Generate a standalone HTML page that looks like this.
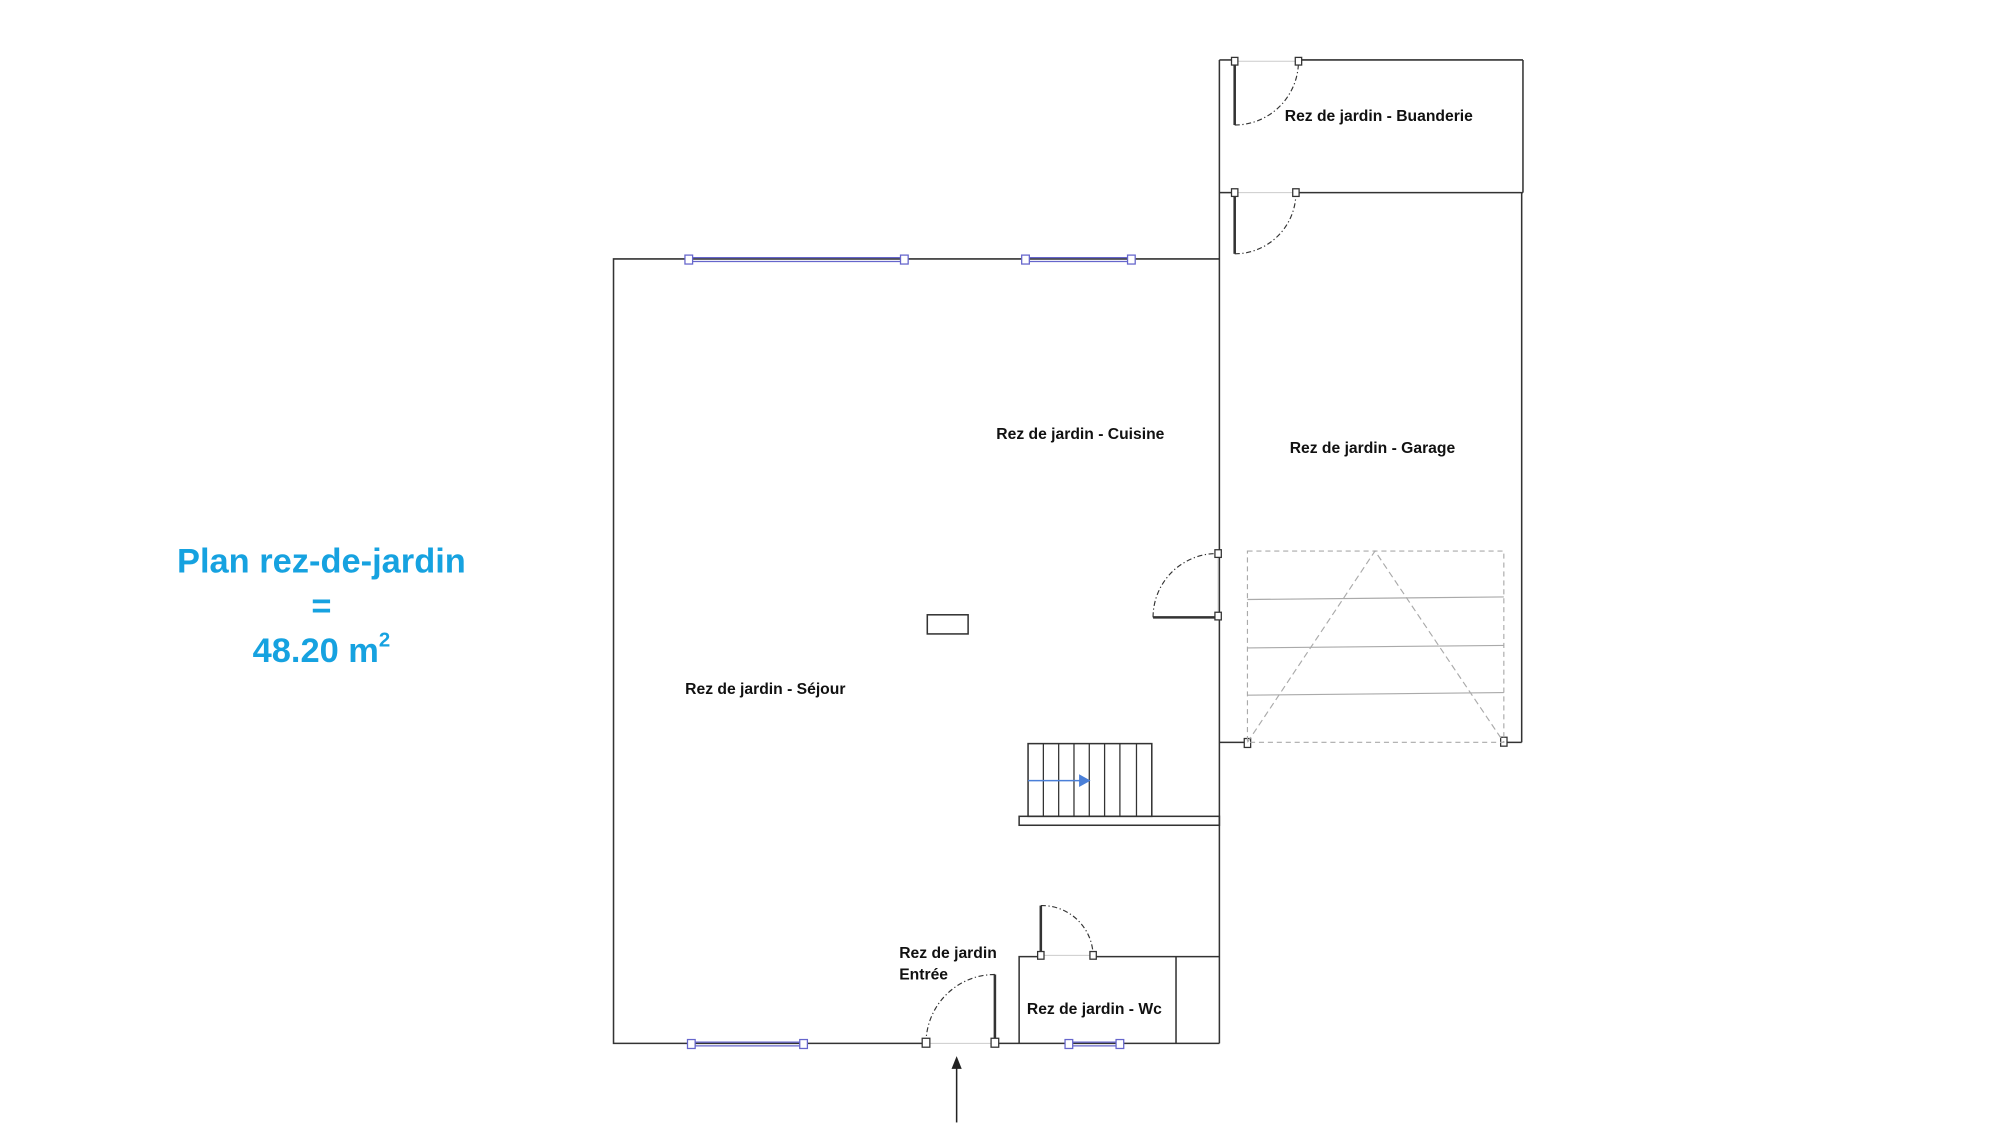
<!DOCTYPE html>
<html><head><meta charset="utf-8"><style>
html,body{margin:0;padding:0;background:#fff;}
svg{display:block;}
</style></head><body>
<svg width="2000" height="1125" viewBox="0 0 1568 882" xmlns="http://www.w3.org/2000/svg">
<rect width="1568" height="882" fill="#fff"/>
<g font-family="Liberation Sans, sans-serif" font-weight="bold" fill="#16a2e0" text-anchor="middle" font-size="27">
<text x="252" y="449">Plan rez-de-jardin</text>
<text x="252" y="484">=</text>
<text x="252" y="519">48.20 m<tspan font-size="16" dy="-12">2</tspan></text>
</g>
<g stroke="#333" stroke-width="1.2" fill="none">
<polyline points="956,203 481,203 481,818 726,818"/>
<line x1="780" y1="818" x2="956" y2="818"/>
<line x1="956" y1="47" x2="956" y2="818"/>
<line x1="956" y1="47" x2="968" y2="47"/>
<line x1="1018" y1="47" x2="1194" y2="47"/>
<line x1="1194" y1="47" x2="1194" y2="151"/>
<line x1="956" y1="151" x2="968" y2="151"/>
<line x1="1016" y1="151" x2="1194" y2="151"/>
<line x1="1193" y1="151" x2="1193" y2="582"/>
<line x1="956" y1="582" x2="978" y2="582"/>
<line x1="1179" y1="582" x2="1193" y2="582"/>
<polyline points="799,818 799,750 816,750"/>
<line x1="857" y1="750" x2="956" y2="750"/>
<line x1="922" y1="750" x2="922" y2="818"/>
<rect x="799" y="640" width="157" height="7" stroke-width="1.2"/>
<rect x="806" y="583" width="97" height="57"/>
<rect x="727" y="482" width="32" height="15"/>
</g>
<g stroke="#333" stroke-width="1">
<line x1="818" y1="583" x2="818" y2="640"/><line x1="830" y1="583" x2="830" y2="640"/>
<line x1="842" y1="583" x2="842" y2="640"/><line x1="854" y1="583" x2="854" y2="640"/>
<line x1="866" y1="583" x2="866" y2="640"/><line x1="878" y1="583" x2="878" y2="640"/>
<line x1="891" y1="583" x2="891" y2="640"/>
</g>
<line x1="806" y1="612" x2="848" y2="612" stroke="#4a7fd8" stroke-width="1.2"/>
<polygon points="846,607 855,612 846,617" fill="#4a7fd8"/>
<g stroke="#6666cc" stroke-width="1" fill="none">
<line x1="540" y1="202" x2="709" y2="202"/><line x1="540" y1="205" x2="709" y2="205"/>
<line x1="804" y1="202" x2="887" y2="202"/><line x1="804" y1="205" x2="887" y2="205"/>
<line x1="542" y1="817" x2="630" y2="817"/><line x1="542" y1="820" x2="630" y2="820"/>
<line x1="838" y1="817" x2="878" y2="817"/><line x1="838" y1="820" x2="878" y2="820"/>
<rect x="537" y="200" width="6" height="7" fill="#fff"/><rect x="706" y="200" width="6" height="7" fill="#fff"/>
<rect x="801" y="200" width="6" height="7" fill="#fff"/><rect x="884" y="200" width="6" height="7" fill="#fff"/>
<rect x="539" y="815" width="6" height="7" fill="#fff"/><rect x="627" y="815" width="6" height="7" fill="#fff"/>
<rect x="835" y="815" width="6" height="7" fill="#fff"/><rect x="875" y="815" width="6" height="7" fill="#fff"/>
</g>
<g stroke="#333" fill="none">
<line x1="968" y1="48" x2="968" y2="98" stroke-width="2"/>
<path d="M968,98 A50,50 0 0 0 1018,48" stroke-dasharray="4,2,1,2" stroke-width="0.9"/>
<line x1="968" y1="151" x2="968" y2="199" stroke-width="2"/>
<path d="M968,199 A48,48 0 0 0 1016,151" stroke-dasharray="4,2,1,2" stroke-width="0.9"/>
<line x1="904" y1="484" x2="955" y2="484" stroke-width="2"/>
<path d="M904,484 A50,50 0 0 1 955,434" stroke-dasharray="4,2,1,2" stroke-width="0.9"/>
<line x1="816" y1="710" x2="816" y2="749" stroke-width="2"/>
<path d="M816,710 A40,40 0 0 1 857,749" stroke-dasharray="4,2,1,2" stroke-width="0.9"/>
<line x1="780" y1="764" x2="780" y2="817" stroke-width="2"/>
<path d="M780,764 A54,54 0 0 0 726,817" stroke-dasharray="4,2,1,2" stroke-width="0.9"/>
</g>
<g stroke="#ccc" stroke-width="0.8">
<line x1="968" y1="48" x2="1018" y2="48"/><line x1="968" y1="151" x2="1016" y2="151"/>
<line x1="955" y1="434" x2="955" y2="483"/><line x1="816" y1="749" x2="857" y2="749"/>
<line x1="726" y1="818" x2="780" y2="818"/>
</g>
<g stroke="#333" stroke-width="1" fill="#fff">
<rect x="965.5" y="45" width="5" height="6"/><rect x="1015.5" y="45" width="5" height="6"/>
<rect x="965.5" y="148" width="5" height="6"/><rect x="1013.5" y="148" width="5" height="6"/>
<rect x="952.5" y="431" width="5" height="6"/><rect x="952.5" y="480" width="5" height="6"/>
<rect x="813.5" y="746" width="5" height="6"/><rect x="854.5" y="746" width="5" height="6"/>
<rect x="723" y="814" width="6" height="7"/><rect x="777" y="814" width="6" height="7"/>
<rect x="975.5" y="579" width="5" height="7"/><rect x="1176.5" y="578" width="5" height="7"/>
</g>
<g stroke="#aaa" stroke-width="0.9" fill="none">
<rect x="978" y="432" width="201" height="150" stroke-dasharray="4,3"/>
<polyline points="978,582 1078,432 1179,582" stroke-dasharray="5,3"/>
<line x1="978" y1="470" x2="1179" y2="468"/>
<line x1="978" y1="508" x2="1179" y2="506"/>
<line x1="978" y1="545" x2="1179" y2="543"/>
</g>
<line x1="750" y1="880" x2="750" y2="836" stroke="#222" stroke-width="1.2"/>
<polygon points="746,838 750,828 754,838" fill="#222"/>
<g font-family="Liberation Sans, sans-serif" font-weight="bold" font-size="12.3" fill="#111" text-anchor="middle">
<text x="1081" y="95">Rez de jardin - Buanderie</text>
<text x="847" y="344">Rez de jardin - Cuisine</text>
<text x="1076" y="355">Rez de jardin - Garage</text>
<text x="600" y="544">Rez de jardin - Séjour</text>
<text x="858" y="795">Rez de jardin - Wc</text>
<text x="705" y="751" text-anchor="start">Rez de jardin</text>
<text x="705" y="768" text-anchor="start">Entrée</text>
</g>
</svg>
</body></html>
